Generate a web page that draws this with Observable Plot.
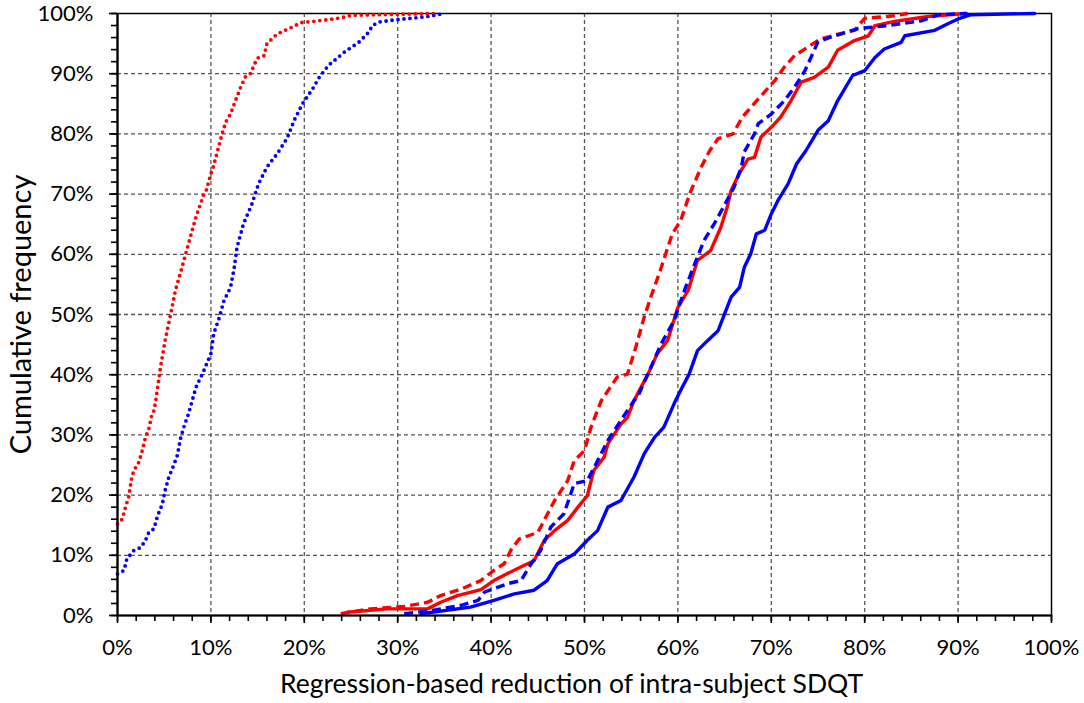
<!DOCTYPE html>
<html>
<head>
<meta charset="utf-8">
<script src="https://cdn.jsdelivr.net/npm/d3@7"></script>
<script src="https://cdn.jsdelivr.net/npm/@observablehq/plot@0.6"></script>
<style>
  html, body { margin: 0; padding: 0; background: #fff; }
</style>
</head>
<body>
<div id="chart"></div>
<script>
// [x (% reduction), y (cumulative %)]
const redDotted = [[0,15.2],[0.5,16],[0.86,18],[1.2,19.7],[1.5,22.7],[1.75,24.1],[2.3,25.5],[2.65,27.4],[3.0,29.6],[3.35,31],[3.7,33.5],[3.9,34],[4.1,35.7],[4.25,37.4],[4.6,41.2],[5.1,45.7],[5.7,50.1],[6.2,54],[6.9,57.8],[7.5,61.2],[8.4,66.2],[9.25,70],[9.5,70.6],[10.0,73.4],[10.2,74.2],[11.2,80],[11.6,82],[12.1,83.3],[12.6,85.4],[13.2,87.8],[13.7,89.5],[14.3,90.1],[14.6,91.4],[15.0,92.6],[15.7,93],[16.0,95],[17.1,96.6],[18.5,97.6],[19.7,98.5],[21,98.7],[23.2,99.1],[24.3,99.4],[25,99.7],[34.3,100]];
const blueDotted = [[0,6.9],[0.7,7.5],[1.0,9.4],[1.75,10.8],[2.5,11.3],[3.0,12.5],[3.35,13.8],[3.9,14.4],[4.3,16.6],[4.8,18.5],[5.1,20.8],[5.5,23],[6.0,24.9],[6.4,26.6],[6.75,29.4],[7.1,31.3],[7.6,33.5],[8.0,35.7],[8.4,37.9],[9.25,40.7],[10.0,43.5],[10.3,46.8],[10.9,49.5],[11.4,52.3],[12.1,54.5],[12.5,57.8],[12.8,61.2],[13.5,65.1],[14.4,68.4],[15.1,71.7],[16.0,74.5],[17.1,76.7],[18.2,79.4],[18.9,82.2],[19.8,85],[20.9,87.5],[21.6,89.4],[22.6,91.4],[24.3,93.6],[25.9,95.3],[26.9,96.9],[27.3,98],[28,98.6],[30,99],[32.1,99.3],[33.2,99.5],[34.3,99.8],[35,100]];
const redDashed = [[23.9,0.3],[27.1,1.1],[30.7,1.5],[33.2,2.2],[34.6,3.3],[36.8,4.4],[38.9,5.8],[40.3,7.5],[41.4,8.6],[42.1,10.8],[43,12.7],[45,13.8],[46.8,19.1],[48.2,22.4],[48.9,25.7],[50,27.4],[50.7,31.3],[51.8,35.7],[53.5,39.6],[54.6,40.1],[55.5,44.6],[56.4,49.6],[57.1,52.9],[58,56.8],[58.7,60.1],[59.4,63.4],[60.3,65.6],[61.3,70.2],[62.5,74.5],[63.4,77.2],[64.3,79.2],[65.9,80],[66.9,82.8],[68.6,85.8],[70.4,88.9],[71.4,91.1],[72.5,93],[73.9,94.4],[75.3,95.8],[77.5,96.7],[78.9,97.2],[80,99.2],[82.5,99.5],[84.6,100]];
const redSolid = [[24.6,0.55],[28.9,1.1],[33.2,1.1],[34.6,2.2],[36.4,3.3],[38.9,4.3],[40.3,5.8],[41.8,7],[43.5,8.3],[44.6,9.1],[45.7,12.5],[46.8,14.1],[48.2,15.8],[49.3,18],[50.3,19.9],[51,24.1],[52.1,26.3],[52.5,28.5],[53.9,31.8],[54.6,32.9],[55.3,35.7],[56.8,40.1],[57.8,43.5],[58.9,45.7],[60,51.2],[61.1,54],[62.1,59],[63.5,60.6],[64.6,64.5],[65.3,68],[65.7,70.6],[66.6,73.5],[67.5,75.8],[68.2,76.1],[68.9,79.5],[70,81.1],[71,82.8],[72.1,85.5],[73.2,88.6],[74.6,89.4],[76.1,91.1],[77.1,93.9],[78.9,95.5],[80.4,96.3],[81.1,98],[83.2,98.7],[86.8,99.5],[90.7,100]];
const blueDashed = [[30.7,0.3],[33.5,0.8],[36.8,1.7],[38.6,2.5],[39.3,3.9],[41.8,5.3],[43.2,5.8],[44.3,8.6],[45.3,10.8],[46.4,14.7],[47.8,16.9],[48.9,21.9],[50.3,22.4],[51.4,25.7],[52.5,29.1],[53.9,32.4],[55.3,35.7],[55.7,36.3],[57.1,41.2],[58.2,45.1],[59.6,49],[60.7,54],[61.8,58.4],[62.8,62.3],[63.9,65.1],[65.1,68.5],[66,71.1],[66.8,74.5],[67.1,77],[68.2,80],[68.6,81.7],[70,83.3],[71.4,85.5],[72.5,87.8],[73.6,90.5],[74.6,93.9],[75,95.3],[76.4,96.1],[79.3,97.5],[82.5,98],[86.1,98.8],[87.9,99.8],[91,100]];
const blueSolid = [[32.5,0.3],[37.8,1.4],[40.3,2.5],[42.5,3.6],[44.6,4.2],[46.0,5.8],[47.1,8.6],[48.9,10.2],[50.3,12.5],[51.4,14.1],[52.5,18],[53.9,19.1],[55.3,23],[56.4,26.9],[57.5,29.6],[58.5,31.3],[59.6,35.2],[60.3,37.4],[61.2,40.1],[62.1,44],[63.2,45.7],[64.3,47.3],[65,50.1],[65.7,52.9],[66.6,54.5],[67.1,57.8],[67.8,60.1],[68.4,63.4],[69.3,64],[70,66.7],[70.7,68.9],[71.8,71.7],[72.7,75],[73.7,77.2],[75,80.6],[76.1,82.2],[77.1,85.5],[78.7,89.7],[80,90.5],[81.1,92.7],[82.1,94.1],[83.9,95.2],[84.3,96.3],[87.5,97.2],[88.9,98.3],[90,99.1],[91.4,99.8],[98.2,100]];

const majorTicks = [0,10,20,30,40,50,60,70,80,90,100];
const minorTicks = [0,2,4,6,8,10,12,14,16,18,20,22,24,26,28,30,32,34,36,38,40,42,44,46,48,50,52,54,56,58,60,62,64,66,68,70,72,74,76,78,80,82,84,86,88,90,92,94,96,98,100];
const gridTicks = [10,20,30,40,50,60,70,80,90];
const xTitle = "Regression-based reduction of intra-subject SDQT";
const yTitle = "Cumulative frequency";

const RED = "#ff0000", BLUE = "#0000ff";
const pct = d => d + "%";
const lineOpts = (stroke, dash, w) => ({x: d => d[0], y: d => d[1], stroke, strokeWidth: w, strokeDasharray: dash, strokeLinecap: "round", strokeLinejoin: "round"});

const chart = Plot.plot({
  width: 1084,
  height: 703,
  marginLeft: 117,
  marginRight: 33,
  marginTop: 13,
  marginBottom: 88,
  style: {fontFamily: "Lato, 'Open Sans', sans-serif", fontSize: "22px", color: "#000", background: "#fff"},
  x: {domain: [0, 100]},
  y: {domain: [0, 100]},
  marks: [
    Plot.gridX(gridTicks, {stroke: "#555", strokeOpacity: 1, strokeWidth: 1.3, strokeDasharray: "4,3"}),
    Plot.gridY(gridTicks, {stroke: "#555", strokeOpacity: 1, strokeWidth: 1.3, strokeDasharray: "4,3"}),
    Plot.frame({stroke: "#000", strokeWidth: 1.5}),
    Plot.axisX(minorTicks, {tickSize: 6, fill: "none", label: null, strokeWidth: 1.6}),
    Plot.axisY(minorTicks, {tickSize: 6, fill: "none", label: null, strokeWidth: 1.6}),
    Plot.axisX(majorTicks, {tickSize: 8, tickPadding: 16, tickFormat: pct, label: null, fontSize: 22, strokeWidth: 1.6}),
    Plot.axisY(majorTicks, {tickSize: 8, tickPadding: 16, tickFormat: pct, label: null, fontSize: 22, strokeWidth: 1.6}),
    Plot.line(redDotted, lineOpts(RED, "0,6", 3.8)),
    Plot.line(blueDotted, lineOpts(BLUE, "0,6", 3.8)),
    Plot.line(redDashed, {...lineOpts(RED, "9,5", 3.4), strokeLinecap: "butt"}),
    Plot.line(redSolid, lineOpts(RED, null, 3.4)),
    Plot.line(blueDashed, {...lineOpts(BLUE, "9,5", 3.4), strokeLinecap: "butt"}),
    Plot.line(blueSolid, lineOpts(BLUE, null, 3.4)),
    Plot.ruleX([0], {stroke: "#000", strokeWidth: 2.2}),
    Plot.ruleY([0], {stroke: "#000", strokeWidth: 2.2}),
    Plot.text([yTitle], {frameAnchor: "left", dx: -96, rotate: -90, textAnchor: "middle", lineAnchor: "middle", fontSize: 29, fill: "#000"}),
    Plot.text([xTitle], {frameAnchor: "bottom", dy: 69, dx: -13, textAnchor: "middle", lineAnchor: "middle", fontSize: 26.5, fill: "#000"})
  ]
});
document.getElementById("chart").appendChild(chart);
</script>
</body>
</html>
